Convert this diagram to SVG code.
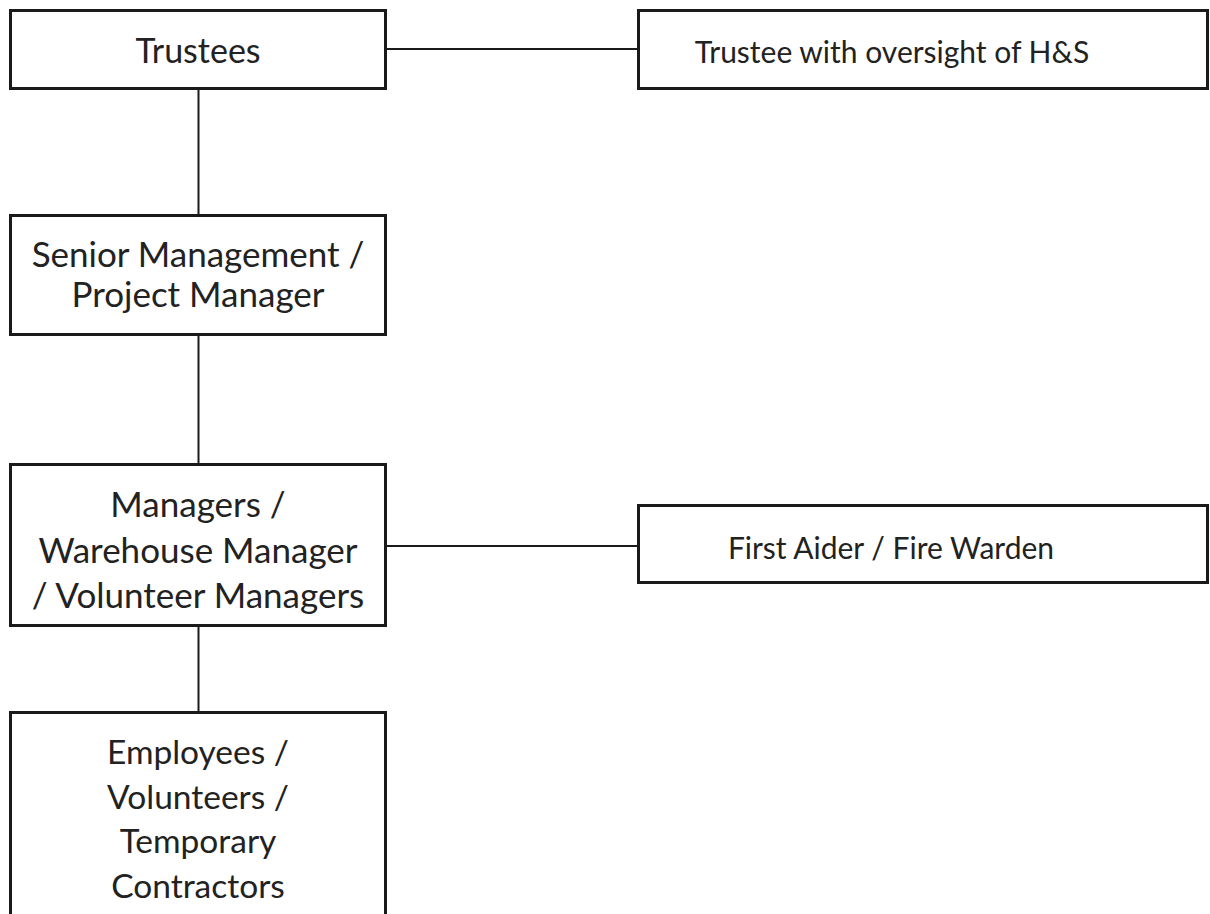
<svg xmlns="http://www.w3.org/2000/svg" width="1210" height="914" viewBox="0 0 1210 914">
<style>
.box{fill:#fff;stroke:#1a1a1a;stroke-width:3}
.conn{stroke:#1a1a1a;stroke-width:2;fill:none}
.t{font-family:Lato,"Liberation Sans",sans-serif;font-size:35px;fill:#222;text-anchor:middle}
.s{font-size:30px}
</style>
<rect width="1210" height="914" fill="#fff"/>
<g id="connectors">
<line class="conn" x1="198.5" y1="89" x2="198.5" y2="215"/>
<line class="conn" x1="198.5" y1="335" x2="198.5" y2="464"/>
<line class="conn" x1="198.5" y1="626" x2="198.5" y2="712"/>
<line class="conn" x1="386" y1="49" x2="638" y2="49"/>
<line class="conn" x1="386" y1="546" x2="638" y2="546"/>
</g>
<g id="trustees">
<rect class="box" x="10.5" y="10.5" width="375" height="78"/>
<text class="t" x="198" y="63" style="font-size:34px">Trustees</text>
</g>
<g id="trustee-hs">
<rect class="box" x="638.5" y="10.5" width="569" height="78"/>
<text class="t s" x="892" y="63">Trustee with oversight of H&amp;S</text>
</g>
<g id="senior">
<rect class="box" x="10.5" y="215.5" width="375" height="119"/>
<text class="t" x="198" y="267">Senior Management /</text>
<text class="t" x="198" y="307">Project Manager</text>
</g>
<g id="managers">
<rect class="box" x="10.5" y="464.5" width="375" height="161"/>
<text class="t" x="198" y="517">Managers /</text>
<text class="t" x="198" y="563">Warehouse Manager</text>
<text class="t" x="198" y="608">/ Volunteer Managers</text>
</g>
<g id="first-aider">
<rect class="box" x="638.5" y="505.5" width="569" height="77"/>
<text class="t s" x="891" y="559">First Aider / Fire Warden</text>
</g>
<g id="employees">
<rect class="box" x="10.5" y="712.5" width="375" height="230"/>
<text class="t" x="198" y="764" style="font-size:33.5px">Employees /</text>
<text class="t" x="198" y="809" style="font-size:33.5px">Volunteers /</text>
<text class="t" x="198" y="853" style="font-size:33.5px">Temporary</text>
<text class="t" x="198" y="898" style="font-size:33.5px">Contractors</text>
</g>
</svg>
